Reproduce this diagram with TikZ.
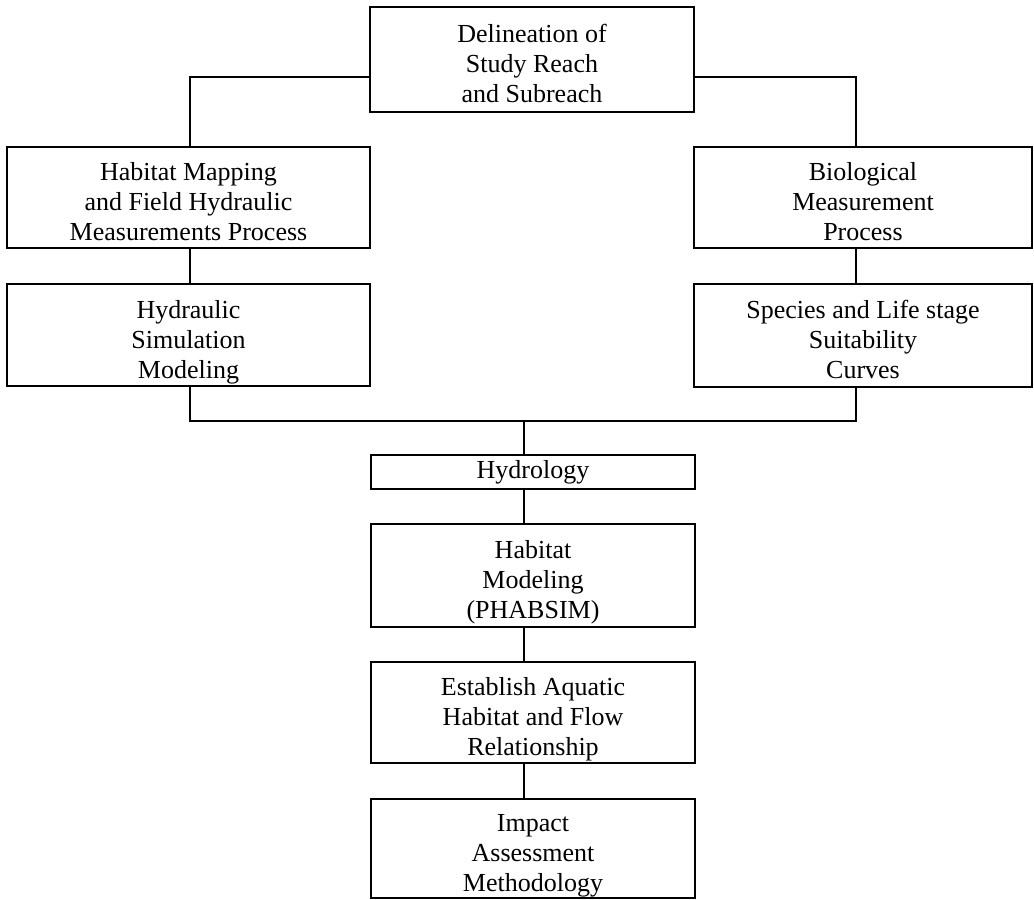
\documentclass[tikz,border=0pt]{standalone}
\usepackage{fontspec}
\setmainfont{Liberation Serif}
\usetikzlibrary{positioning}

\begin{document}
\begin{tikzpicture}[
    x=0.5pt, y=-0.5pt,
    stage/.style={rectangle, draw, line width=1pt, inner sep=0pt, align=center, font=\fontsize{13}{15}\selectfont},
    lowtext/.style={text height=46pt, text depth=3pt},
    link/.style={line width=1pt}
]
    \useasboundingbox (0,0) rectangle (1034,900);

    % Study reach
    \node[stage, lowtext, minimum width=162pt, minimum height=52.5pt] (delin) at (532,59.5) {Delineation of\\Study Reach\\and Subreach};

    % Left branch
    \node[stage, lowtext, minimum width=181.5pt, minimum height=50.5pt] (habmap) at (188.5,197.5) {Habitat Mapping\\and Field Hydraulic\\Measurements Process};
    \node[stage, lowtext, minimum width=181.5pt, minimum height=51pt] (hydsim) at (188.5,335) {Hydraulic\\Simulation\\Modeling};

    % Right branch
    \node[stage, lowtext, minimum width=169pt, minimum height=50.5pt] (bio) at (863,197.5) {Biological\\Measurement\\Process};
    \node[stage, lowtext, minimum width=169pt, minimum height=51.5pt] (species) at (863,335.5) {Species and Life stage\\Suitability\\Curves};

    % Center column
    \node[stage, minimum width=162pt, minimum height=17pt] (hydro) at (533,472) {Hydrology};
    \node[stage, lowtext, minimum width=162pt, minimum height=51.5pt] (habmod) at (533,575.5) {Habitat\\Modeling\\(PHABSIM)};
    \node[stage, lowtext, minimum width=162pt, minimum height=50.5pt] (aquatic) at (533,712.5) {Establish Aquatic\\Habitat and Flow\\Relationship};
    \node[stage, lowtext, minimum width=162pt, minimum height=49.5pt] (impact) at (533,848.5) {Impact\\Assessment\\Methodology};

    % Junction points
    \coordinate (ltop) at (190,77);
    \coordinate (rtop) at (856,77);
    \coordinate (ljoin) at (190,421);
    \coordinate (rjoin) at (856,421);
    \coordinate (join) at (524,421);

    % Connectors
    \draw[link] (delin.west |- ltop) -- (ltop) -- (habmap.north -| ltop);
    \draw[link] (delin.east |- rtop) -- (rtop) -- (bio.north -| rtop);
    \draw[link] (habmap.south -| ltop) -- (hydsim.north -| ltop);
    \draw[link] (bio.south -| rtop) -- (species.north -| rtop);
    \draw[link] (hydsim.south -| ljoin) -- (ljoin) -- (rjoin) -- (species.south -| rjoin);
    \draw[link] (join) -- (hydro.north -| join);
    \draw[link] (hydro.south -| join) -- (habmod.north -| join);
    \draw[link] (habmod.south -| join) -- (aquatic.north -| join);
    \draw[link] (aquatic.south -| join) -- (impact.north -| join);

\end{tikzpicture}
\end{document}
